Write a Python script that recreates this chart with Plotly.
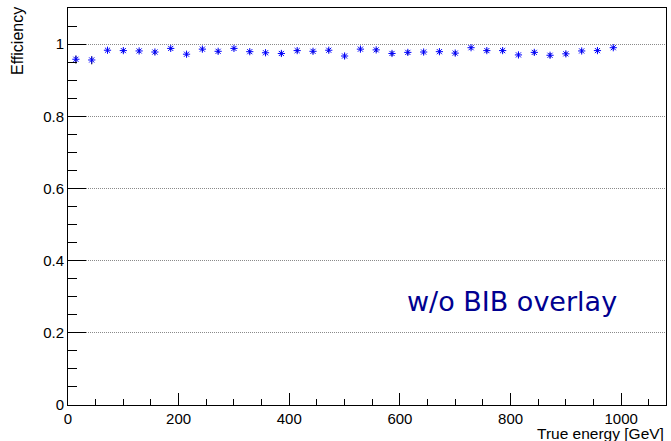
import plotly.graph_objects as go

# ---- data ----
energy = [14.3, 42.9, 71.4, 100.0, 128.6, 157.1, 185.7, 214.3, 242.9, 271.4,
          300.0, 328.6, 357.1, 385.7, 414.3, 442.9, 471.4, 500.0, 528.6, 557.1,
          585.7, 614.3, 642.9, 671.4, 700.0, 728.6, 757.1, 785.7, 814.3, 842.9,
          871.4, 900.0, 928.6, 957.1, 985.7]
efficiency = [0.958, 0.956, 0.983, 0.982, 0.981, 0.978, 0.988, 0.972, 0.986, 0.980,
              0.988, 0.979, 0.976, 0.974, 0.982, 0.980, 0.983, 0.967, 0.986, 0.984,
              0.974, 0.977, 0.978, 0.979, 0.975, 0.990, 0.982, 0.982, 0.970, 0.977,
              0.969, 0.973, 0.981, 0.982, 0.990]
err_up = [0.010, 0.010, 0.005, 0.005, 0.005, 0.006, 0.004, 0.006, 0.005, 0.005,
          0.004, 0.005, 0.006, 0.006, 0.005, 0.005, 0.005, 0.007, 0.005, 0.005,
          0.006, 0.006, 0.006, 0.005, 0.006, 0.004, 0.005, 0.005, 0.006, 0.006,
          0.006, 0.006, 0.005, 0.005, 0.004]
err_down = [0.012, 0.012, 0.006, 0.006, 0.006, 0.007, 0.005, 0.007, 0.006, 0.006,
            0.005, 0.006, 0.007, 0.007, 0.006, 0.006, 0.006, 0.008, 0.006, 0.006,
            0.007, 0.007, 0.007, 0.006, 0.007, 0.005, 0.006, 0.006, 0.007, 0.007,
            0.007, 0.007, 0.006, 0.006, 0.005]
x_ticks = [0, 200, 400, 600, 800, 1000]
y_ticks = [0, 0.2, 0.4, 0.6, 0.8, 1]
x_title = "True energy [GeV]"
y_title = "Efficiency"
label_text = "w/o BIB overlay"

W, H = 671, 441
ML, MR, MT, MB = 68, 5, 8, 36
PW, PH = W - ML - MR, H - MT - MB

def px_x(p):
    return (p - ML) / PW

def px_y(p):
    return (H - MB - p) / PH

fig = go.Figure()
fig.add_trace(go.Scatter(
    x=energy, y=efficiency, mode="markers",
    marker=dict(symbol="asterisk-open", size=6, color="#0000ff",
                line=dict(color="#0000ff", width=1)),
    error_y=dict(type="data", symmetric=False, array=err_up, arrayminus=err_down,
                 color="black", thickness=1, width=0),
    showlegend=False,
))

tickfont = dict(family="Liberation Sans, Arial, sans-serif", size=15, color="black")

fig.update_layout(
    width=W, height=H,
    margin=dict(l=ML, r=MR, t=MT, b=MB, pad=0),
    paper_bgcolor="white", plot_bgcolor="white",
    xaxis=dict(range=[0, 1081], tickvals=x_ticks, ticks="inside", ticklen=12,
               tickcolor="black", tickwidth=1, showline=True, linecolor="black",
               linewidth=1, mirror=True, showgrid=False, zeroline=False,
               tickfont=tickfont, automargin=False,
               minor=dict(dtick=50, ticks="inside", ticklen=6, tickcolor="black",
                          showgrid=False)),
    yaxis=dict(range=[0, 1.1], tickvals=y_ticks, ticks="inside", ticklen=18,
               tickcolor="black", tickwidth=1, showline=True, linecolor="black",
               linewidth=1, mirror=True, showgrid=True, gridcolor="#8a8a8a",
               griddash="1px,1px", gridwidth=1, zeroline=False,
               tickfont=tickfont, automargin=False,
               minor=dict(dtick=0.05, ticks="inside", ticklen=9, tickcolor="black",
                          showgrid=False)),
    annotations=[
        dict(text=y_title, textangle=-90, xref="paper", yref="paper",
             x=px_x(18), y=px_y(5), xanchor="center", yanchor="top",
             showarrow=False,
             font=dict(family="Liberation Sans, Arial, sans-serif", size=16, color="black")),
        dict(text=x_title, xref="paper", yref="paper",
             x=px_x(666), y=px_y(444), xanchor="right", yanchor="bottom",
             showarrow=False,
             font=dict(family="Liberation Sans, Arial, sans-serif", size=15.5, color="black")),
        dict(text=label_text, xref="paper", yref="paper",
             x=px_x(511.5), y=px_y(301), xanchor="center", yanchor="middle",
             showarrow=False,
             font=dict(family="DejaVu Sans, sans-serif", size=27, color="#000090")),
    ],
)

fig.write_html("out.html")
